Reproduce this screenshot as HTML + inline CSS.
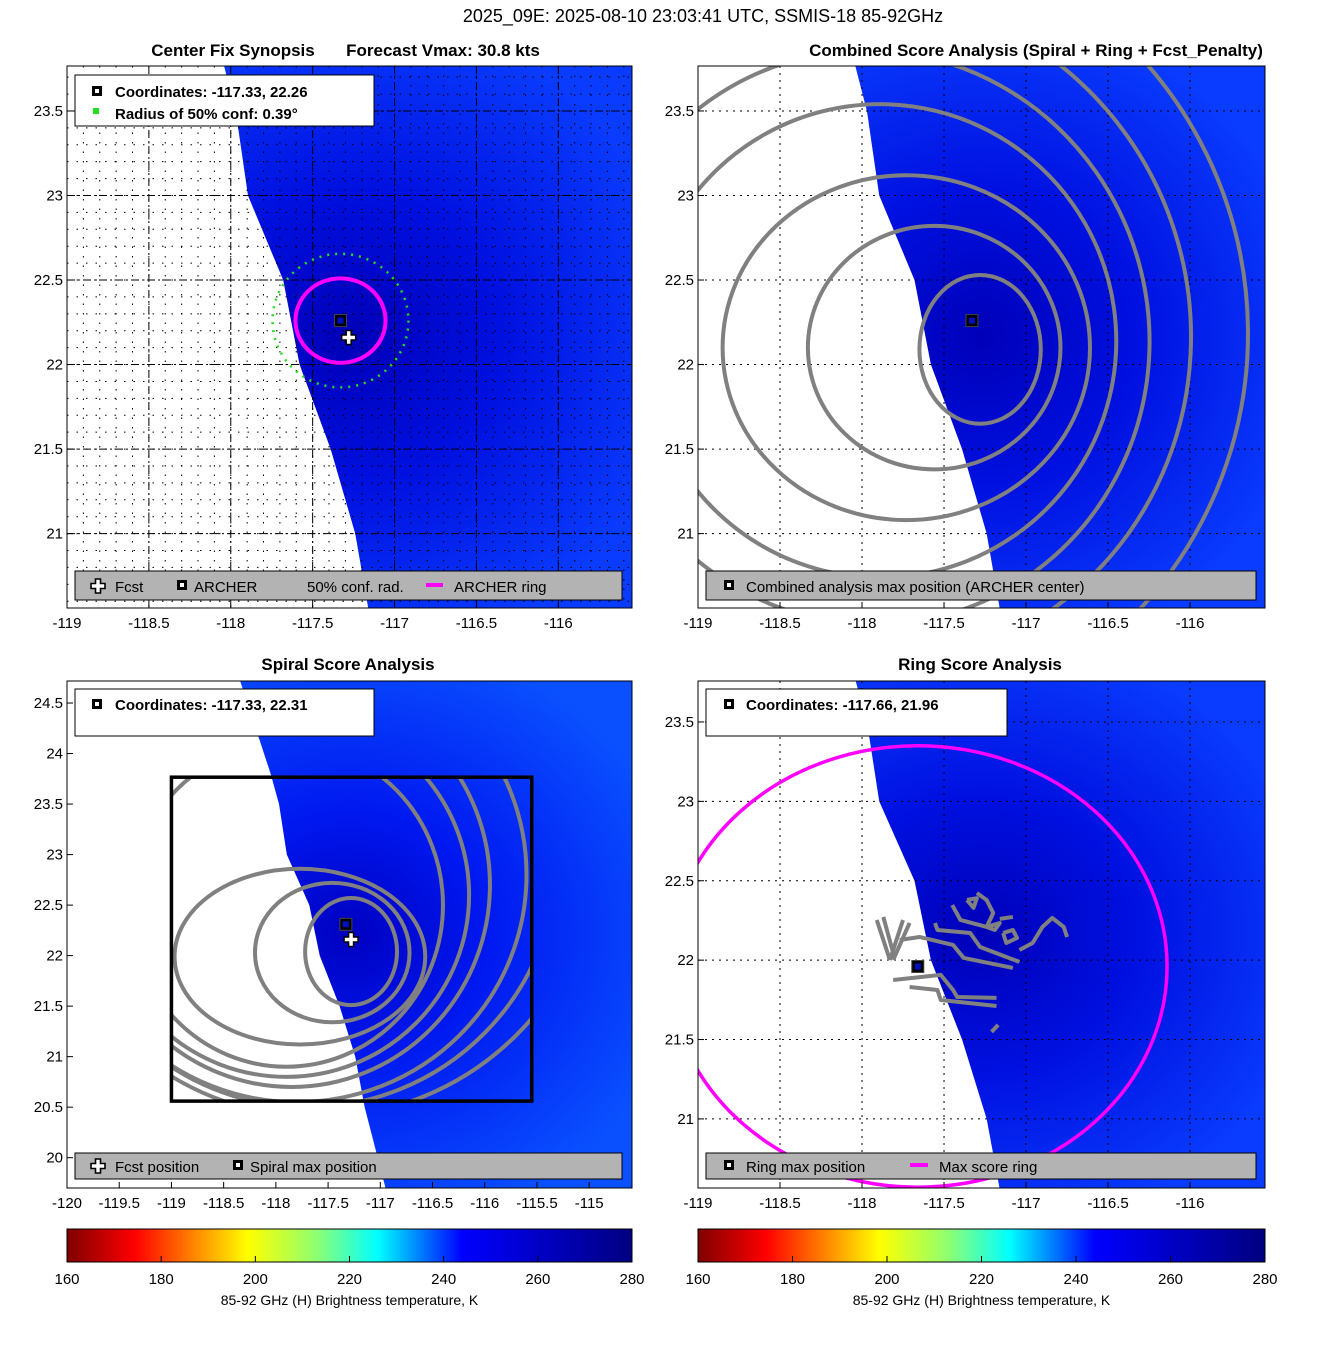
<!DOCTYPE html>
<html><head><meta charset="utf-8">
<style>
html,body{margin:0;padding:0;background:#fff;}
svg{display:block;font-family:"Liberation Sans","DejaVu Sans",sans-serif;}
</style></head>
<body>
<svg id="fig" width="1317" height="1350" viewBox="0 0 1317 1350" xmlns="http://www.w3.org/2000/svg">
<defs>
<radialGradient id="gp1" cx="0.5" cy="0.5" r="0.6"><stop offset="0" stop-color="#0000b8"/><stop offset="0.45" stop-color="#0010e0"/><stop offset="1" stop-color="#0a3cff"/></radialGradient>
<radialGradient id="gp3" cx="0.5" cy="0.5" r="0.6"><stop offset="0" stop-color="#0000c0"/><stop offset="0.4" stop-color="#0018f0"/><stop offset="1" stop-color="#0a50ff"/></radialGradient>
<linearGradient id="jet" x1="0" x2="1" y1="0" y2="0">
<stop offset="0" stop-color="#7f0000"/><stop offset="0.12" stop-color="#ff0000"/><stop offset="0.32" stop-color="#ffff00"/><stop offset="0.44" stop-color="#90ff70"/><stop offset="0.55" stop-color="#00ffff"/><stop offset="0.70" stop-color="#0000ff"/><stop offset="1" stop-color="#00007f"/>
</linearGradient>
</defs>
<text x="703" y="22" font-size="18" text-anchor="middle">2025_09E: 2025-08-10 23:03:41 UTC, SSMIS-18 85-92GHz</text>
</svg>
<script>
// ---- data ----
const lonTicksTop = [-119,-118.5,-118,-117.5,-117,-116.5,-116];
const latTicksTop = [23.5,23,22.5,22,21.5,21];
const lonTicksSpiral = [-120,-119.5,-119,-118.5,-118,-117.5,-117,-116.5,-116,-115.5,-115];
const latTicksSpiral = [24.5,24,23.5,23,22.5,22,21.5,21,20.5,20];
const latTicksRing = [23.5,23,22.5,22,21.5,21];
const cbTicks = [160,180,200,220,240,260,280];
const swathLon = [-118.4,-118.05,-117.97,-117.895,-117.68,-117.58,-117.39,-117.24,-117.15,-116.9];
const swathLat = [24.9,23.8,23.5,23.0,22.5,22.0,21.5,21.0,20.5,19.5];
const archerCenter = [-117.33,22.26];
const spiralCenter = [-117.33,22.31];
const ringCenter = [-117.66,21.96];
const fcstPos = [-117.28,22.16];
const archerRing = [0.275,0.25];
const confRad = [0.415,0.395];
const ringMax = [1.52,1.39];
// combined-score contours: [centerLon, centerLat, rxDeg, ryDeg]
const combLon = [-117.28,-117.56,-117.73,-117.89,-117.95,-118.0,-118.1];
const combLat = [22.09,22.10,22.10,22.14,22.16,22.2,22.2];
const combRx = [0.37,0.77,1.12,1.44,1.70,2.0,2.45];
const combRy = [0.44,0.72,1.02,1.40,1.70,2.0,2.4];
const combRot = [0,0,0,-8,-14,-18,-22];
// spiral-score contours
const spLon = [-117.28,-117.46,-117.77,-117.9,-117.9,-117.85,-117.8,-117.7,-117.6];
const spLat = [22.04,22.03,21.99,22.5,22.6,22.7,22.8,23.0,23.2];
const spRx = [0.44,0.74,1.2,1.5,1.75,1.9,2.2,2.4,2.7];
const spRy = [0.53,0.69,0.87,1.6,1.8,2.0,2.25,2.5,2.8];
// ring-score squiggle contours
const rsq = [
 [[-117.555,22.234],[-117.54,22.19],[-117.34,22.171],[-117.28,22.083],[-117.04,21.989]],
 [[-117.77,22.127],[-117.65,22.146],[-117.445,22.096],[-117.38,22.014],[-117.08,21.951]],
 [[-117.81,21.875],[-117.52,21.907],[-117.445,21.812],[-117.42,21.768],[-117.18,21.762]],
 [[-117.71,21.831],[-117.54,21.812],[-117.52,21.749],[-117.18,21.711]],
 [[-117.45,22.347],[-117.40,22.253],[-117.24,22.209],[-117.20,22.297],[-117.24,22.379],[-117.30,22.423]],
 [[-117.36,22.379],[-117.30,22.39],[-117.32,22.329],[-117.36,22.379]],
 [[-117.24,22.209],[-117.16,22.234],[-117.19,22.19],[-117.24,22.209]],
 [[-117.14,22.171],[-117.12,22.108],[-117.055,22.14],[-117.08,22.19],[-117.14,22.171]],
 [[-117.04,22.064],[-116.96,22.108],[-116.90,22.209],[-116.84,22.266],[-116.77,22.209],[-116.75,22.146]],
 [[-117.16,22.26],[-117.08,22.272]],
 [[-117.91,22.253],[-117.83,22.001]],[[-117.87,22.272],[-117.81,22.045]],
 [[-117.75,22.253],[-117.83,22.001]],[[-117.71,22.234],[-117.81,22.001]],
 [[-117.21,21.548],[-117.17,21.592]]
];
// ---- helpers ----
const NS='http://www.w3.org/2000/svg';
const svg=document.getElementById('fig');
function mk(tag,attrs,parent){const e=document.createElementNS(NS,tag);for(const k in attrs)e.setAttribute(k,attrs[k]);(parent||svg).appendChild(e);return e;}
function axis(p){return {X:v=>p.x0+(v-p.lon0)/(p.lon1-p.lon0)*(p.x1-p.x0),Y:v=>p.y0+(p.lat0-v)/(p.lat0-p.lat1)*(p.y1-p.y0)};}
const P1={x0:67,x1:632,y0:66,y1:608,lon0:-119,lon1:-115.55,lat0:23.766,lat1:20.56};
const P2={x0:698,x1:1265,y0:66,y1:608,lon0:-119,lon1:-115.543,lat0:23.766,lat1:20.56};
const P3={x0:67,x1:632,y0:681,y1:1188,lon0:-120,lon1:-114.59,lat0:24.718,lat1:19.7};
const P4={x0:698,x1:1265,y0:681,y1:1188,lon0:-119,lon1:-115.543,lat0:23.758,lat1:20.565};

function panel(p,id,grad){
  const g=mk('g',{'clip-path':'url(#clip'+id+')'});
  
  
  const cp=mk('clipPath',{id:'clip'+id},svg.querySelector('defs'));
  mk('rect',{x:p.x0,y:p.y0,width:p.x1-p.x0,height:p.y1-p.y0},cp);
  const a=axis(p);
  const bg=mk('rect',{x:p.x0,y:p.y0,width:p.x1-p.x0,height:p.y1-p.y0,fill:'url(#'+grad+')'},g);
  
  
  let pts=swathLon.map((v,i)=>a.X(v)+','+a.Y(swathLat[i]));
  pts.push(p.x0+','+(p.y1+50));pts.push(p.x0+','+(p.y0-50));
  const sw=mk('polygon',{points:pts.join(' '),fill:'#fff'},g);
  
  
  return {g,a};
}
function ticksAxes(p,a,lonT,latT,id){
  const t=mk('g',{});
  
  
  lonT.forEach(v=>{const x=a.X(v);
    mk('line',{x1:x,x2:x,y1:p.y1,y2:p.y1-6,stroke:'#000'},t);
    const tx=mk('text',{x:x,y:p.y1+20,'font-size':15,'text-anchor':'middle'},t);tx.textContent=v;
    
    });
  latT.forEach(v=>{const y=a.Y(v);
    mk('line',{x1:p.x0,x2:p.x0+6,y1:y,y2:y,stroke:'#000'},t);
    const tx=mk('text',{x:p.x0-4,y:y+5,'font-size':15,'text-anchor':'end'},t);tx.textContent=v;
    
    });
  mk('rect',{x:p.x0,y:p.y0,width:p.x1-p.x0,height:p.y1-p.y0,fill:'none',stroke:'#000','stroke-width':1},t);
}
function grid(g,p,a,lonT,latT,dash){
  lonT.forEach(v=>mk('line',{x1:a.X(v),x2:a.X(v),y1:p.y0,y2:p.y1,stroke:'#000','stroke-dasharray':dash},g));
  latT.forEach(v=>mk('line',{x1:p.x0,x2:p.x1,y1:a.Y(v),y2:a.Y(v),stroke:'#000','stroke-dasharray':dash},g));
}
function ellipse(g,a,cx,cy,rx,ry,attrs,rot){
  const X=a.X(cx),Y=a.Y(cy);
  const e=mk('ellipse',Object.assign({cx:X,cy:Y,rx:Math.abs(a.X(cx+rx)-X),ry:Math.abs(a.Y(cy+ry)-Y),fill:'none'},attrs,rot?{transform:'rotate('+rot+' '+X+' '+Y+')'}:{}),g);
  return e;
}
function archer(g,a,pos){
  const x=a.X(pos[0]),y=a.Y(pos[1]);
  const m=mk('g',{},g);
  
  
  mk('rect',{x:x-6,y:y-6,width:12,height:12,fill:'#000',stroke:'#444'},m);
  mk('rect',{x:x-3,y:y-3,width:6,height:6,fill:'#0010c0'},m);
}
function fcst(g,a,pos){
  const x=a.X(pos[0]),y=a.Y(pos[1]);
  const m=mk('path',{d:`M${x-2.5},${y-7}h5v4.5h4.5v5h-4.5v4.5h-5v-4.5h-4.5v-5h4.5z`,fill:'#fff',stroke:'#000','stroke-width':1.5},g);
  
  
}
function title(x,y,txt,name){const t=mk('text',{x:x,y:y,'font-size':17,'font-weight':'bold','text-anchor':'middle'});t.textContent=txt;
  
  }
function legendBox(x,y,w,h,fill,name){const r=mk('rect',{x:x,y:y,width:w,height:h,fill:fill,stroke:'#000','stroke-width':1});
  
  }
function ltext(x,y,txt,bold,name){const t=mk('text',{x:x,y:y,'font-size':15,'font-weight':bold?'bold':'normal'});t.textContent=txt;
  
  }
function sqIcon(x,y){mk('rect',{x:x-5,y:y-5,width:10,height:10,fill:'#000'});mk('rect',{x:x-2,y:y-2,width:4,height:4,fill:'#fff'});}
function crossIcon(x,y){mk('path',{d:`M${x-2.5},${y-7}h5v4.5h4.5v5h-4.5v4.5h-5v-4.5h-4.5v-5h4.5z`,fill:'#fff',stroke:'#000','stroke-width':1.6});}

const gray={stroke:'#808080','stroke-width':4,'stroke-linejoin':'round'};

// ---- Panel 1 ----
{const {g,a}=panel(P1,'p1','gp1');
 const minorLon=[],minorLat=[];
 for(let i=0;i<=35;i++)minorLon.push(-119+i*0.1);
 for(let i=0;i<=33;i++)minorLat.push(20.5+i*0.1);
 grid(g,P1,a,minorLon,minorLat,'1.5,8');
 grid(g,P1,a,lonTicksTop,latTicksTop,'8,3,2,3');
 const c=ellipse(g,a,archerCenter[0],archerCenter[1],confRad[0],confRad[1],{stroke:'#22dd22','stroke-width':2.5,'stroke-dasharray':'2,6'});
 
 
 const r=ellipse(g,a,archerCenter[0],archerCenter[1],archerRing[0],archerRing[1],{stroke:'#ff00ff','stroke-width':4});
 
 
 archer(g,a,archerCenter);fcst(g,a,fcstPos);
 ticksAxes(P1,a,lonTicksTop,latTicksTop,'center-fix');
 title(233,56,'Center Fix Synopsis','panel-title-center-fix');
 title(443,56,'Forecast Vmax: 30.8 kts','panel-title-vmax');
 legendBox(75,75,299,51,'#fff','coordinates-legend');
 sqIcon(97,91);ltext(115,97,'Coordinates: -117.33, 22.26',true,'coordinates-text');
 mk('rect',{x:93,y:108,width:6,height:6,fill:'#22dd22'});ltext(115,119,'Radius of 50% conf: 0.39°',true,'confidence-text');
 legendBox(75,571,547,29,'#b3b3b3','legend-center-fix');
 crossIcon(98,586);ltext(115,592,'Fcst',false,'legend-entry-fcst');
 sqIcon(182,585);ltext(194,592,'ARCHER',false,'legend-entry-archer');
 ltext(307,592,'50% conf. rad.',false,'legend-entry-conf-rad');
 mk('line',{x1:426,x2:443,y1:585,y2:585,stroke:'#ff00ff','stroke-width':4});ltext(454,592,'ARCHER ring',false,'legend-entry-archer-ring');
}
// ---- Panel 2 ----
{const {g,a}=panel(P2,'p2','gp1');
 grid(g,P2,a,lonTicksTop,latTicksTop,'2,5');
 combLon.forEach((v,i)=>{const e=ellipse(g,a,v,combLat[i],combRx[i],combRy[i],gray,combRot[i]);
   
   });
 archer(g,a,archerCenter);
 ticksAxes(P2,a,lonTicksTop,latTicksTop,'combined');
 title(1036,56,'Combined Score Analysis (Spiral + Ring + Fcst_Penalty)','panel-title-combined');
 legendBox(706,571,550,29,'#b3b3b3','legend-combined');
 sqIcon(729,585);ltext(746,592,'Combined analysis max position (ARCHER center)',false,'legend-entry-combined-max');
}
// ---- Panel 3 ----
{const {g,a}=panel(P3,'p3','gp3');
 const bx=mk('clipPath',{id:'clipbox'},svg.querySelector('defs'));
 const bxX=a.X(P1.lon0),bxY=a.Y(P1.lat0),bxW=a.X(P1.lon1)-bxX,bxH=a.Y(P1.lat1)-bxY;
 mk('rect',{x:bxX,y:bxY,width:bxW,height:bxH},bx);
 const cg=mk('g',{'clip-path':'url(#clipbox)'},g);
 spLon.forEach((v,i)=>{const e=ellipse(cg,a,v,spLat[i],spRx[i],spRy[i],gray,0);
   
   });
 const br=mk('rect',{x:bxX,y:bxY,width:bxW,height:bxH,fill:'none',stroke:'#000','stroke-width':3.5},g);
 
 
 archer(g,a,spiralCenter);fcst(g,a,fcstPos);
 ticksAxes(P3,a,lonTicksSpiral,latTicksSpiral,'spiral');
 title(348,670,'Spiral Score Analysis','panel-title-spiral');
 legendBox(75,689,299,47,'#fff','spiral-coordinates-legend');
 sqIcon(97,704);ltext(115,710,'Coordinates: -117.33, 22.31',true,'spiral-coordinates-text');
 legendBox(75,1153,547,26,'#b3b3b3','legend-spiral');
 crossIcon(98,1166);ltext(115,1172,'Fcst position',false,'legend-entry-fcst-position');
 sqIcon(238,1165);ltext(250,1172,'Spiral max position',false,'legend-entry-spiral-max');
}
// ---- Panel 4 ----
{const {g,a}=panel(P4,'p4','gp1');
 grid(g,P4,a,lonTicksTop,latTicksRing,'2,5');
 rsq.forEach(line=>{const p=mk('polyline',Object.assign({points:line.map(q=>a.X(q[0])+','+a.Y(q[1])).join(' '),fill:'none'},gray),g);
   
   });
 const r=ellipse(g,a,ringCenter[0],ringCenter[1],ringMax[0],ringMax[1],{stroke:'#ff00ff','stroke-width':3.5});
 
 
 archer(g,a,ringCenter);
 ticksAxes(P4,a,lonTicksTop,latTicksRing,'ring');
 title(980,670,'Ring Score Analysis','panel-title-ring');
 legendBox(706,689,301,47,'#fff','ring-coordinates-legend');
 sqIcon(729,704);ltext(746,710,'Coordinates: -117.66, 21.96',true,'ring-coordinates-text');
 legendBox(706,1153,550,26,'#b3b3b3','legend-ring');
 sqIcon(729,1165);ltext(746,1172,'Ring max position',false,'legend-entry-ring-max');
 mk('line',{x1:910,x2:928,y1:1165,y2:1165,stroke:'#ff00ff','stroke-width':4});ltext(939,1172,'Max score ring',false,'legend-entry-max-ring');
}
// ---- Colorbars ----
[[67,632,'left'],[698,1265,'right']].forEach(([x0,x1,side])=>{
  const cb=mk('rect',{x:x0,y:1229,width:x1-x0,height:33,fill:'url(#jet)',stroke:'#000'});
  
  
  cbTicks.forEach(v=>{const x=x0+(v-160)/120*(x1-x0);
    mk('line',{x1:x,x2:x,y1:1262,y2:1256,stroke:'#000'});
    const t=mk('text',{x:x,y:1284,'font-size':15,'text-anchor':'middle'});t.textContent=v;
    
    });
  const c=mk('text',{x:(x0+x1)/2,y:1305,'font-size':14,'text-anchor':'middle'});c.textContent='85-92 GHz (H) Brightness temperature, K';
  
  
});
</script>
</body></html>
